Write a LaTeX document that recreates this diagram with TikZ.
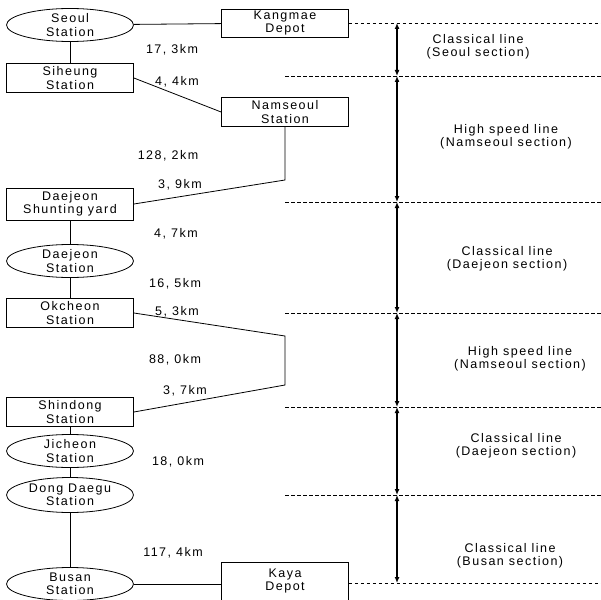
\documentclass[tikz,border=0pt]{standalone}
\usepackage{fontspec}
\setmainfont{Liberation Sans}[LetterSpace=12]
\usetikzlibrary{arrows.meta,shapes.geometric}
\tikzset{
	stnbox/.style={draw, line width=0.8pt, minimum width=127pt, minimum height=29pt, inner sep=0pt, align=center},
	stnoval/.style={draw, ellipse, line width=0.8pt, minimum width=127pt, minimum height=33pt, inner sep=0pt, align=center},
	track/.style={line width=0.8pt},
	guide/.style={line width=0.8pt, dash pattern=on 3.5pt off 2.5pt},
	span/.style={line width=1.2pt, {Latex[length=6pt,width=5pt]}-{Latex[length=6pt,width=5pt]}},
	dist/.style={inner sep=0pt},
	sect/.style={align=center, inner sep=0pt}
}

\begin{document}
\begin{tikzpicture}[x=1pt, y=-1pt, every node/.style={font=\fontsize{12.5}{13.5}\selectfont}]
			%%%%% START %%%%%
			\useasboundingbox (0,0) rectangle (601,599);
			
			\node[stnoval] (seoul) at (70,25) {Seoul\\Station};
			\node[stnbox, minimum height=28pt] (kangmae) at (285,23) {Kangmae\\Depot};
			\node[stnbox] (siheung) at (70,78) {Siheung\\Station};
			\node[stnbox] (namseoul) at (285,112) {Namseoul\\Station};
			\node[stnbox, minimum height=32pt] (shunt) at (70,204) {Daejeon\\Shunting yard};
			\node[stnoval] (daejeon) at (70,261) {Daejeon\\Station};
			\node[stnbox] (okcheon) at (70,313) {Okcheon\\Station};
			\node[stnbox] (shindong) at (70,412) {Shindong\\Station};
			\node[stnoval] (jicheon) at (70,451) {Jicheon\\Station};
			\node[stnoval, minimum height=35pt] (dongdaegu) at (70,495) {Dong Daegu\\Station};
			\node[stnoval] (busan) at (70,584) {Busan\\Station};
			\node[stnbox, minimum height=38pt] (kaya) at (285,581) {Kaya\\Depot};
			
			\coordinate (bendA) at (285,180);
			\coordinate (bendB) at (285,336);
			\coordinate (bendC) at (285,385);
			
			\draw[track] (seoul) -- (kangmae);
			\draw[track] (seoul) -- (siheung);
			\draw[track] (siheung.east) -- (namseoul.west);
			\draw[track] (namseoul) -- (bendA) -- (shunt.east);
			\draw[track] (shunt) -- (daejeon);
			\draw[track] (daejeon) -- (okcheon);
			\draw[track] (okcheon.east) -- (bendB) -- (bendC) -- (shindong.east);
			\draw[track] (shindong) -- (jicheon);
			\draw[track] (jicheon) -- (dongdaegu);
			\draw[track] (dongdaegu) -- (busan);
			\draw[track] (busan.east) -- (busan.east -| kaya.west);
			
			\node[dist] (d1) at (172,50) {17, 3km};
			\node[dist] (d2) at (177,82) {4, 4km};
			\node[dist] (d3) at (168,156) {128, 2km};
			\node[dist] (d4) at (180,185) {3, 9km};
			\node[dist] (d5) at (176,234) {4, 7km};
			\node[dist] (d6) at (175,284) {16, 5km};
			\node[dist] (d7) at (177,312) {5, 3km};
			\node[dist] (d8) at (175,360) {88, 0km};
			\node[dist] (d9) at (185,391) {3, 7km};
			\node[dist] (d10) at (178,462) {18, 0km};
			\node[dist] (d11) at (173,553) {117, 4km};
			
			% section levels
			\coordinate (edge) at (601,0);
			\coordinate (lvl1) at (397,23);
			\coordinate (lvl2) at (397,76);
			\coordinate (lvl3) at (397,202);
			\coordinate (lvl4) at (397,313);
			\coordinate (lvl5) at (397,407);
			\coordinate (lvl6) at (397,495);
			\coordinate (lvl7) at (397,583);
			
			\draw[guide] (kangmae.east |- lvl1) -- (lvl1 -| edge);
			\draw[guide] (lvl2 -| namseoul) -- (lvl2 -| edge);
			\draw[guide] (lvl3 -| namseoul) -- (lvl3 -| edge);
			\draw[guide] (lvl4 -| namseoul) -- (lvl4 -| edge);
			\draw[guide] (lvl5 -| namseoul) -- (lvl5 -| edge);
			\draw[guide] (lvl6 -| namseoul) -- (lvl6 -| edge);
			\draw[guide] (kaya.east |- lvl7) -- (lvl7 -| edge);
			
			\draw[span] (lvl1) -- (lvl2);
			\draw[span] (lvl2) -- (lvl3);
			\draw[span] (lvl3) -- (lvl4);
			\draw[span] (lvl4) -- (lvl5);
			\draw[span] (lvl5) -- (lvl6);
			\draw[span] (lvl6) -- (lvl7);
			
			\node[sect] (sec1) at (478,47) {Classical line\\(Seoul section)};
			\node[sect] (sec2) at (506,137) {High speed line\\(Namseoul section)};
			\node[sect] (sec3) at (507,259) {Classical line\\(Daejeon section)};
			\node[sect] (sec4) at (520,359) {High speed line\\(Namseoul section)};
			\node[sect] (sec5) at (516,446) {Classical line\\(Daejeon section)};
			\node[sect] (sec6) at (510,556) {Classical line\\(Busan section)};
			
			%%%%% END %%%%%
\end{tikzpicture}
\end{document}
